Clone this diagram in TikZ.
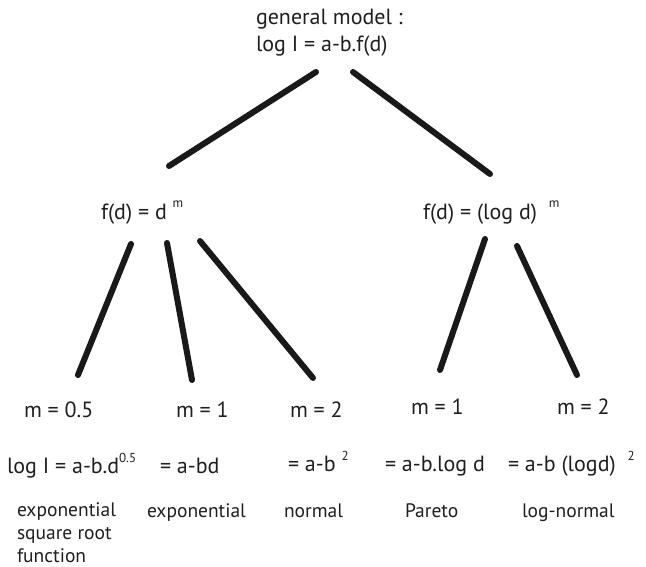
\documentclass[tikz,border=0pt]{standalone}
\usepackage{fontspec}
\setmainfont{PT Sans}
\newcommand{\spx}[1]{\raisebox{0.5em}{\fontsize{13}{13}\selectfont #1}}
\begin{document}
\begin{tikzpicture}[x=1pt,y=-1pt,
  lbl/.style={anchor=base west,inner sep=0pt,outer sep=0pt,text=black!88,font=\fontsize{22}{26}\selectfont},
  namelbl/.style={lbl,font=\fontsize{19.5}{24}\selectfont},
  branch/.style={line width=6pt,line cap=round,black!90}]
\useasboundingbox (0,0) rectangle (646,567);
% texts
\node[lbl] (gm) at (256,25) {general model :};
\node[lbl] (eq) at (256,52) {log I = a-b.f(d)};
\node[lbl] (fl) at (101,219) {f(d) = d \spx{m}};
\node[lbl] (fr) at (423,219) {f(d) = (log d) \ \spx{m}};
\node[lbl] (m1) at (24,417) {m = 0.5};
\node[lbl] (m2) at (176,417) {m = 1};
\node[lbl] (m3) at (290,417) {m = 2};
\node[lbl] (m4) at (411,414) {m = 1};
\node[lbl] (m5) at (557,414) {m = 2};
\node[lbl] (q1) at (7,473) {log I = a-b.d\spx{0.5}};
\node[lbl] (q2) at (160,473) {= a-bd};
\node[lbl] (q3) at (288,471) {= a-b \spx{2}};
\node[lbl] (q4) at (385,471) {= a-b.log d};
\node[lbl] (q5) at (508,471) {= a-b (logd) \ \spx{2}};
\node[namelbl] (n1) at (17,516) {\begin{tabular}[t]{@{}l@{}}exponential\\[-0.5pt]square root\\[-1.5pt]function\end{tabular}};
\node[namelbl] (n2) at (147,517) {exponential};
\node[namelbl] (n3) at (284,517) {normal};
\node[namelbl] (n4) at (405,517) {Pareto};
\node[namelbl] (n5) at (522,517) {log-normal};
% connector ends
\coordinate (t1) at (316,72);  \coordinate (t1b) at (169,166);
\coordinate (t2) at (353,72);  \coordinate (t2b) at (490,174);
\coordinate (la) at (131,244); \coordinate (lab) at (78,375);
\coordinate (lb) at (167,243); \coordinate (lbb) at (192,380);
\coordinate (lc) at (200,241); \coordinate (lcb) at (313,378);
\coordinate (ra) at (485,239); \coordinate (rab) at (440,370);
\coordinate (rb) at (517,246); \coordinate (rbb) at (577,375);
\draw[branch] (t1) -- (t1b);
\draw[branch] (t2) -- (t2b);
\draw[branch] (la) -- (lab);
\draw[branch] (lb) -- (lbb);
\draw[branch] (lc) -- (lcb);
\draw[branch] (ra) -- (rab);
\draw[branch] (rb) -- (rbb);
\end{tikzpicture}
\end{document}
